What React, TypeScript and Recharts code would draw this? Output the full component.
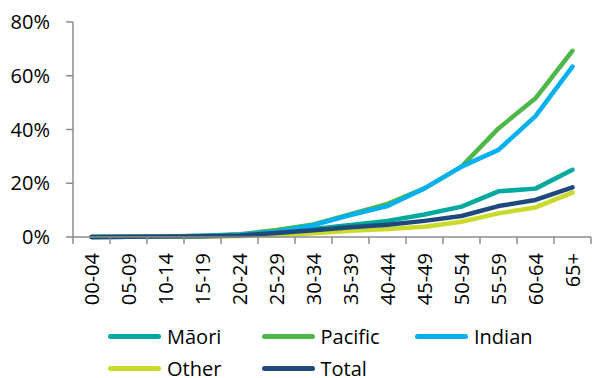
import React from "react";
import { LineChart, Line, XAxis, YAxis } from "recharts";

const ages = ["00-04", "05-09", "10-14", "15-19", "20-24", "25-29", "30-34", "35-39", "40-44", "45-49", "50-54", "55-59", "60-64", "65+"];
const maori = [0, 0.1, 0.2, 0.4, 0.8, 1.7, 3.0, 4.5, 6.0, 8.4, 11.3, 17.0, 18.0, 25.0];
const pacific = [0, 0.1, 0.2, 0.5, 1.0, 2.6, 4.7, 8.5, 12.3, 18.1, 26.2, 40.4, 51.6, 69.3];
const indian = [0, 0.1, 0.2, 0.4, 0.8, 2.0, 4.4, 8.2, 11.5, 18.1, 26.2, 32.4, 45.0, 63.4];
const other = [0, 0.05, 0.1, 0.2, 0.4, 0.7, 1.4, 2.3, 3.0, 3.8, 5.7, 8.8, 11.0, 16.5];
const total = [0, 0.1, 0.2, 0.3, 0.6, 1.5, 2.5, 3.6, 4.6, 6.0, 7.8, 11.5, 13.8, 18.5];
const yTicks = [0, 20, 40, 60, 80];

const series = [
  { key: "maori", name: "Māori", color: "#00A99D", values: maori },
  { key: "pacific", name: "Pacific", color: "#4DB848", values: pacific },
  { key: "indian", name: "Indian", color: "#00B0F0", values: indian },
  { key: "other", name: "Other", color: "#C9DA2A", values: other },
  { key: "total", name: "Total", color: "#1F497D", values: total },
];

const data = ages.map((age, i) => {
  const row: Record<string, string | number> = { age };
  series.forEach((s) => (row[s.key] = s.values[i]));
  return row;
});

const FONT = "'Open Sans', sans-serif";
const AXIS = "#8C8C8C";
const HALF_STEP = 18.5;

function AgeTick(props: any) {
  const { x, y, payload, index } = props;
  const last = index === ages.length - 1;
  return (
    <g>
      <line x1={x - HALF_STEP} x2={x - HALF_STEP} y1={y} y2={y + 7} stroke={AXIS} strokeWidth={1.5} />
      {last && <line x1={x + HALF_STEP} x2={x + HALF_STEP} y1={y} y2={y + 7} stroke={AXIS} strokeWidth={1.5} />}
      <text
        x={x}
        y={y + 16}
        transform={`rotate(-90, ${x}, ${y + 16})`}
        textAnchor="end"
        dominantBaseline="central"
        fontSize={20}
        fontFamily={FONT}
        fill="#000"
      >
        {payload.value}
      </text>
    </g>
  );
}

function LegendBlock() {
  const rows = [series.slice(0, 3), series.slice(3)];
  return (
    <div style={{ position: "absolute", left: 108, top: 320, fontFamily: FONT, fontSize: 20, color: "#000" }}>
      {rows.map((row, r) => (
        <div key={r} style={{ display: "flex", height: 32, alignItems: "center" }}>
          {row.map((s) => (
            <div key={s.key} style={{ display: "flex", alignItems: "center", width: 153.5 }}>
              <div style={{ width: 53, height: 5, borderRadius: 3, background: s.color, marginRight: 6 }} />
              <span>{s.name}</span>
            </div>
          ))}
        </div>
      ))}
    </div>
  );
}

export default function App() {
  return (
    <div style={{ position: "absolute", left: 0, top: 0, width: 592, height: 378, background: "#fff" }}>
      <LineChart width={592} height={378} data={data} margin={{ top: 22, right: 1, left: 0, bottom: 0 }}>
        <XAxis
          dataKey="age"
          height={141}
          padding={{ left: HALF_STEP, right: HALF_STEP }}
          interval={0}
          tickSize={0}
          tickMargin={0}
          tickLine={false}
          axisLine={{ stroke: AXIS, strokeWidth: 1.5 }}
          tick={<AgeTick />}
        />
        <YAxis
          width={73}
          domain={[0, 80]}
          ticks={yTicks}
          interval={0}
          tickFormatter={(v: number) => `${v}%`}
          tickSize={7}
          tickMargin={16}
          tickLine={{ stroke: AXIS, strokeWidth: 1.5 }}
          axisLine={{ stroke: AXIS, strokeWidth: 1.5 }}
          tick={{ fill: "#000", fontSize: 20, fontFamily: FONT }}
        />
        {series.map((s) => (
          <Line
            key={s.key}
            dataKey={s.key}
            name={s.name}
            stroke={s.color}
            strokeWidth={4.5}
            strokeLinecap="round"
            strokeLinejoin="round"
            dot={false}
            activeDot={false}
            type="linear"
            isAnimationActive={false}
          />
        ))}
      </LineChart>
      <LegendBlock />
    </div>
  );
}
